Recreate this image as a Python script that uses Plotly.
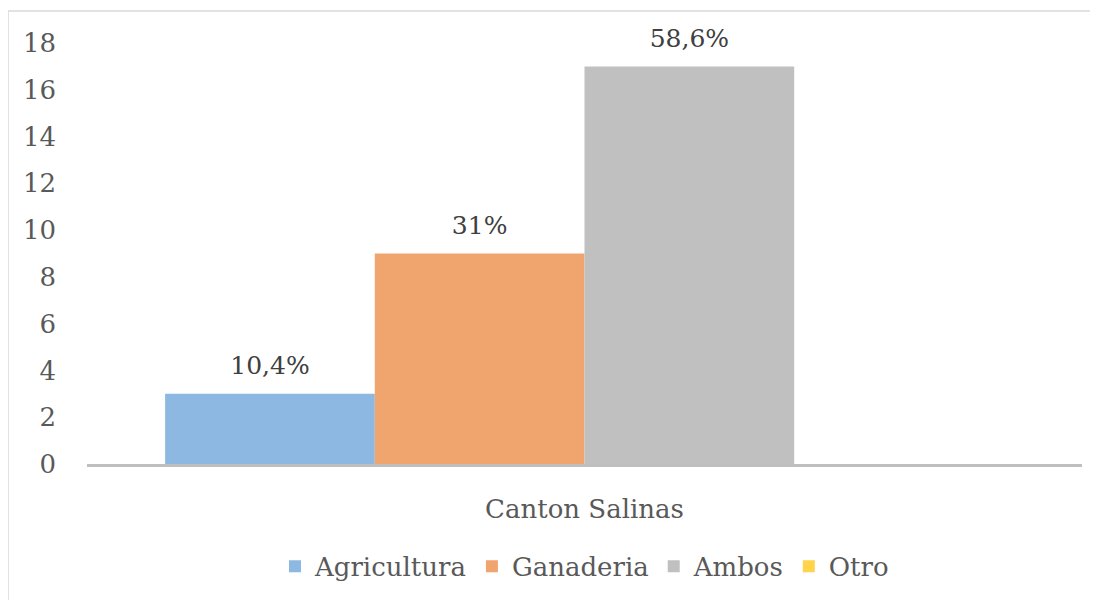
import plotly.graph_objects as go

categories = ["Canton Salinas"]
series_names = ["Agricultura", "Ganaderia", "Ambos", "Otro"]
series_values = [[3], [9], [17], [0]]
series_labels = [["10,4%"], ["31%"], ["58,6%"], [""]]
colors = ["#8DB8E1", "#F0A56E", "#C0C0C0", "#FFD34A"]
y_ticks = [0, 2, 4, 6, 8, 10, 12, 14, 16, 18]

FONT = "DejaVu Serif"

fig = go.Figure()
for i, (name, vals, col) in enumerate(zip(series_names, series_values, colors)):
    fig.add_trace(go.Bar(
        x=categories, y=vals, name=name, offsetgroup=str(i),
        marker=dict(color=col, line=dict(width=0)),
    ))
for i, (vals, labs) in enumerate(zip(series_values, series_labels)):
    fig.add_trace(go.Scatter(
        x=categories, y=vals, text=labs, mode="markers+text", offsetgroup=str(i),
        textposition="top center", cliponaxis=False, showlegend=False, hoverinfo="skip",
        marker=dict(size=20, color="rgba(0,0,0,0)"),
        textfont=dict(family=FONT, size=25, color="#404040"),
    ))

fig.update_layout(
    width=1090, height=592,
    paper_bgcolor="white", plot_bgcolor="white",
    margin=dict(l=79, r=16, t=35, b=135),
    barmode="group", bargap=0.157, bargroupgap=0,
    scattermode="group", scattergap=0.157,
    font=dict(family=FONT, size=26, color="#595959"),
    showlegend=True,
    legend=dict(orientation="h", x=0.5, xanchor="center", y=-0.24, yanchor="middle",
                font=dict(family=FONT, size=26, color="#595959"),
                itemwidth=30, traceorder="normal"),
)
fig.update_yaxes(range=[0, 18], tickvals=y_ticks, showgrid=False, zeroline=False,
                 showline=False, ticks="", ticklabelstandoff=30,
                 tickfont=dict(family=FONT, size=26, color="#595959"))
fig.update_xaxes(showgrid=False, zeroline=False, showline=True, linecolor="#BFBFBF",
                 linewidth=2.5, ticks="", ticklabelstandoff=20,
                 tickfont=dict(family=FONT, size=26, color="#595959"))
fig.add_shape(type="rect", xref="paper", yref="paper",
              x0=-0.0794, x1=1.2, y0=-0.6, y1=1.0758,
              line=dict(color="#D9D9D9", width=1.5), fillcolor="rgba(0,0,0,0)", layer="below")

fig.write_html("out.html")
